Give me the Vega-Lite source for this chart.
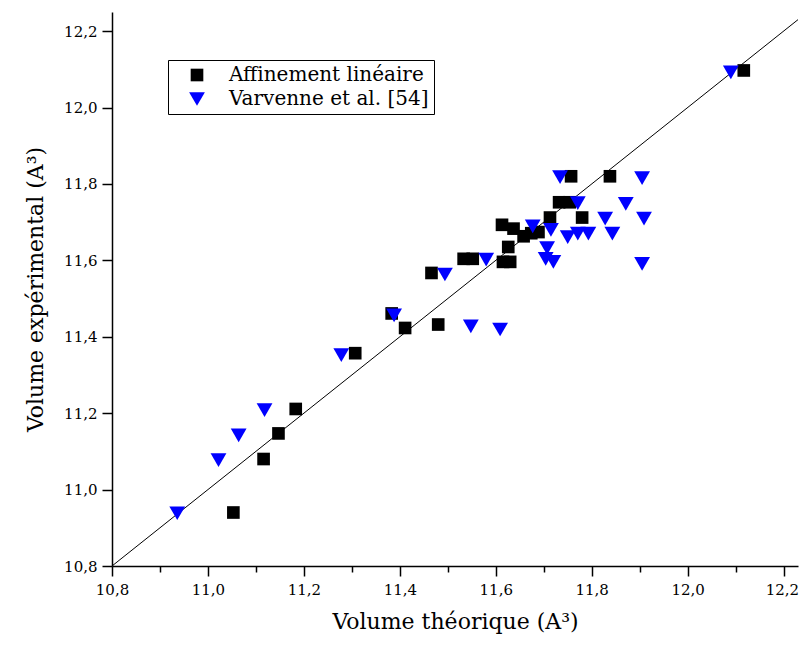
{
  "$schema": "https://vega.github.io/schema/vega-lite/v6.json",
  "autosize": "none",
  "width": 686,
  "height": 554,
  "padding": {"left": 112, "top": 12, "right": 1, "bottom": 91},
  "background": "white",
  "config": {
    "view": {"stroke": null},
    "font": "DejaVu Serif",
    "legend": {"labelFont": "DejaVu Serif"},
    "axis": {
      "domainColor": "black", "domainWidth": 1.5, "tickColor": "black", "tickWidth": 1.5,
      "labelColor": "black", "titleColor": "black", "labelFont": "DejaVu Serif",
      "titleFont": "DejaVu Serif", "titleFontWeight": "normal", "labelFontSize": 15, "titleFontSize": 22,
      "grid": false
    }
  },
  "datasets": {
    "pts": [
      {"vt": 11.053, "ve": 10.940, "serie": "Affinement linéaire"},
      {"vt": 11.116, "ve": 11.080, "serie": "Affinement linéaire"},
      {"vt": 11.147, "ve": 11.147, "serie": "Affinement linéaire"},
      {"vt": 11.183, "ve": 11.211, "serie": "Affinement linéaire"},
      {"vt": 11.307, "ve": 11.357, "serie": "Affinement linéaire"},
      {"vt": 11.383, "ve": 11.461, "serie": "Affinement linéaire"},
      {"vt": 11.411, "ve": 11.423, "serie": "Affinement linéaire"},
      {"vt": 11.480, "ve": 11.432, "serie": "Affinement linéaire"},
      {"vt": 11.466, "ve": 11.567, "serie": "Affinement linéaire"},
      {"vt": 11.533, "ve": 11.604, "serie": "Affinement linéaire"},
      {"vt": 11.552, "ve": 11.604, "serie": "Affinement linéaire"},
      {"vt": 11.615, "ve": 11.596, "serie": "Affinement linéaire"},
      {"vt": 11.630, "ve": 11.596, "serie": "Affinement linéaire"},
      {"vt": 11.626, "ve": 11.635, "serie": "Affinement linéaire"},
      {"vt": 11.613, "ve": 11.693, "serie": "Affinement linéaire"},
      {"vt": 11.637, "ve": 11.683, "serie": "Affinement linéaire"},
      {"vt": 11.658, "ve": 11.663, "serie": "Affinement linéaire"},
      {"vt": 11.674, "ve": 11.671, "serie": "Affinement linéaire"},
      {"vt": 11.689, "ve": 11.674, "serie": "Affinement linéaire"},
      {"vt": 11.713, "ve": 11.712, "serie": "Affinement linéaire"},
      {"vt": 11.732, "ve": 11.752, "serie": "Affinement linéaire"},
      {"vt": 11.754, "ve": 11.752, "serie": "Affinement linéaire"},
      {"vt": 11.757, "ve": 11.820, "serie": "Affinement linéaire"},
      {"vt": 11.780, "ve": 11.712, "serie": "Affinement linéaire"},
      {"vt": 11.838, "ve": 11.820, "serie": "Affinement linéaire"},
      {"vt": 12.117, "ve": 12.097, "serie": "Affinement linéaire"},
      {"vt": 10.936, "ve": 10.938, "serie": "Varvenne et al. [54]"},
      {"vt": 11.022, "ve": 11.077, "serie": "Varvenne et al. [54]"},
      {"vt": 11.064, "ve": 11.142, "serie": "Varvenne et al. [54]"},
      {"vt": 11.118, "ve": 11.208, "serie": "Varvenne et al. [54]"},
      {"vt": 11.278, "ve": 11.352, "serie": "Varvenne et al. [54]"},
      {"vt": 11.388, "ve": 11.456, "serie": "Varvenne et al. [54]"},
      {"vt": 11.494, "ve": 11.563, "serie": "Varvenne et al. [54]"},
      {"vt": 11.548, "ve": 11.427, "serie": "Varvenne et al. [54]"},
      {"vt": 11.580, "ve": 11.602, "serie": "Varvenne et al. [54]"},
      {"vt": 11.609, "ve": 11.419, "serie": "Varvenne et al. [54]"},
      {"vt": 11.677, "ve": 11.689, "serie": "Varvenne et al. [54]"},
      {"vt": 11.704, "ve": 11.604, "serie": "Varvenne et al. [54]"},
      {"vt": 11.707, "ve": 11.632, "serie": "Varvenne et al. [54]"},
      {"vt": 11.715, "ve": 11.680, "serie": "Varvenne et al. [54]"},
      {"vt": 11.720, "ve": 11.596, "serie": "Varvenne et al. [54]"},
      {"vt": 11.734, "ve": 11.818, "serie": "Varvenne et al. [54]"},
      {"vt": 11.750, "ve": 11.661, "serie": "Varvenne et al. [54]"},
      {"vt": 11.771, "ve": 11.750, "serie": "Varvenne et al. [54]"},
      {"vt": 11.771, "ve": 11.670, "serie": "Varvenne et al. [54]"},
      {"vt": 11.793, "ve": 11.670, "serie": "Varvenne et al. [54]"},
      {"vt": 11.828, "ve": 11.709, "serie": "Varvenne et al. [54]"},
      {"vt": 11.843, "ve": 11.670, "serie": "Varvenne et al. [54]"},
      {"vt": 11.871, "ve": 11.748, "serie": "Varvenne et al. [54]"},
      {"vt": 11.905, "ve": 11.815, "serie": "Varvenne et al. [54]"},
      {"vt": 11.909, "ve": 11.709, "serie": "Varvenne et al. [54]"},
      {"vt": 11.905, "ve": 11.591, "serie": "Varvenne et al. [54]"},
      {"vt": 12.090, "ve": 12.092, "serie": "Varvenne et al. [54]"}
    ],
    "diag": [{"v": 10.8}, {"v": 12.3}]
  },
  "layer": [
    {
      "data": {"name": "diag"},
      "mark": {"type": "line", "color": "black", "strokeWidth": 1, "clip": true},
      "encoding": {
        "x": {"field": "v", "type": "quantitative"},
        "y": {"field": "v", "type": "quantitative"}
      }
    },
    {
      "data": {"name": "pts"},
      "mark": {"type": "point", "filled": true, "opacity": 1, "clip": true},
      "encoding": {
        "x": {
          "field": "vt", "type": "quantitative",
          "scale": {"domain": [10.8, 12.23], "nice": false, "zero": false},
          "axis": {
            "title": "Volume théorique (A³)",
            "values": [10.8, 10.9, 11.0, 11.1, 11.2, 11.3, 11.4, 11.5, 11.6, 11.7, 11.8, 11.9, 12.0, 12.1, 12.2],
            "labelExpr": "round(datum.value*10) % 2 == 0 ? replace(format(datum.value, '.1f'), '.', ',') : ''",
            "tickSize": {"condition": {"test": "round(datum.value*10) % 2 == 0", "value": 10}, "value": 6},
            "labelAlign": {"condition": {"test": "datum.value > 12.15", "value": "right"}, "value": "center"},
            "labelOffset": {"condition": {"test": "datum.value > 12.15", "value": 15}, "value": 0},
            "labelPadding": 6,
            "titlePadding": 14,
            "labelFlush": false
          }
        },
        "y": {
          "field": "ve", "type": "quantitative",
          "scale": {"domain": [10.8, 12.25], "nice": false, "zero": false},
          "axis": {
            "title": "Volume expérimental (A³)",
            "values": [10.8, 10.9, 11.0, 11.1, 11.2, 11.3, 11.4, 11.5, 11.6, 11.7, 11.8, 11.9, 12.0, 12.1, 12.2],
            "labelExpr": "round(datum.value*10) % 2 == 0 ? replace(format(datum.value, '.1f'), '.', ',') : ''",
            "tickSize": {"condition": {"test": "round(datum.value*10) % 2 == 0", "value": 10}, "value": 6},
            "labelPadding": 5,
            "titlePadding": 16,
            "labelFlush": false
          }
        },
        "color": {
          "field": "serie", "type": "nominal",
          "scale": {"domain": ["Affinement linéaire", "Varvenne et al. [54]"], "range": ["black", "#0000ff"]},
          "legend": {
            "title": null, "orient": "none", "legendX": 56, "legendY": 48,
            "strokeColor": "black", "fillColor": "white", "padding": 5,
            "labelFont": "DejaVu Serif", "labelFontSize": 20, "labelColor": "black", "labelLimit": 0,
            "symbolOffset": 14, "labelOffset": 22, "rowPadding": 4, "symbolSize": 180, "symbolStrokeWidth": 0
          }
        },
        "shape": {
          "field": "serie", "type": "nominal",
          "scale": {"domain": ["Affinement linéaire", "Varvenne et al. [54]"], "range": ["square", "triangle-down"]},
          "legend": null
        },
        "size": {
          "field": "serie", "type": "nominal",
          "scale": {"domain": ["Affinement linéaire", "Varvenne et al. [54]"], "range": [160, 250]},
          "legend": null
        }
      }
    }
  ]
}
